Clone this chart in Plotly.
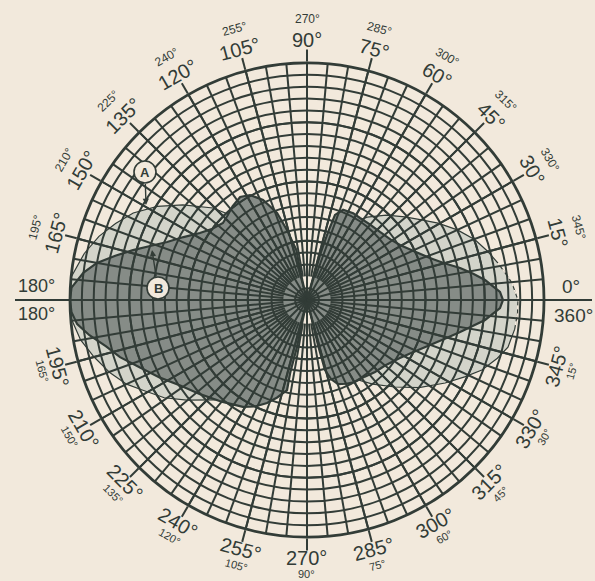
import math
import plotly.graph_objects as go

# ---- polar diagram data (angle in degrees, counter-clockwise from 0° on the right; relative radius) ----
# Curve A: the lighter, larger two-lobed pattern
a_theta = [90, 80, 75, 70, 63, 54, 47, 40.3, 35, 30.4, 25, 19.7, 15, 11, 7, 4.7, 0,
           -3.5, -8, -13.2, -17, -21.8, -26, -31, -38, -44.7, -52, -62, -70, -77, -82,
           -90, -100, -105, -115, -125, -132.6, -140.2, -145.6, -151.2, -155, -159.7, -165, -170,
           -175, -180, -185.5, -191.8, -197, -201.8, -206.6, -212, -217.5, -224.4, -230, -240, -250, -260, -270]
a_r = [0.0, 0.0, 0.1, 0.25, 0.355, 0.432, 0.49, 0.542, 0.59, 0.641, 0.70, 0.753, 0.79, 0.82, 0.85, 0.868, 0.89,
       0.89, 0.885, 0.871, 0.84, 0.795, 0.74, 0.68, 0.60, 0.522, 0.45, 0.368, 0.25, 0.1, 0.0,
       0.0, 0.0, 0.12, 0.30, 0.45, 0.573, 0.66, 0.73, 0.79, 0.84, 0.886, 0.93, 0.97,
       0.995, 1.0, 1.0, 0.96, 0.918, 0.87, 0.82, 0.745, 0.66, 0.555, 0.45, 0.30, 0.12, 0.0, 0.0]

# Curve B: the darker pattern with the strong side lobes
b_theta = [74, 73.3, 73.9, 72.8, 71.8, 68.2, 62, 57.1, 50, 43, 36, 30.6, 24, 18.9, 15, 11.8, 9, 6.4, 2.4, 0,
           -2.4, -6.4, -11.8, -16, -20.1, -26, -32, -40, -46.6, -53, -59.7, -65, -69.7, -73, -75.6, -76.3, -76, -76,
           258, 258, 258, 257, 257.5, 253, 248.8, 244, 239, 230, 221.6, 214, 208, 202, 197, 193, 189.2, 186, 183,
           180, 177, 173, 170, 167, 164, 161, 157.5, 153, 148, 143, 137.5, 133, 128.5, 123, 118.5, 113.7, 109,
           106, 102, 103, 104, 104]
b_r = [0.0, 0.088, 0.198, 0.30, 0.378, 0.41, 0.415, 0.412, 0.415, 0.421, 0.435, 0.456, 0.50, 0.548, 0.60, 0.66, 0.71, 0.756, 0.815, 0.827,
       0.815, 0.756, 0.66, 0.60, 0.553, 0.50, 0.462, 0.43, 0.418, 0.405, 0.401, 0.39, 0.378, 0.35, 0.305, 0.195, 0.087, 0.0,
       0.0, 0.1, 0.203, 0.316, 0.389, 0.43, 0.466, 0.50, 0.526, 0.56, 0.60, 0.645, 0.70, 0.76, 0.825, 0.87, 0.93, 0.975, 0.995,
       1.0, 0.995, 0.95, 0.90, 0.83, 0.764, 0.70, 0.639, 0.585, 0.533, 0.50, 0.481, 0.49, 0.505, 0.518, 0.504, 0.461, 0.388,
       0.307, 0.215, 0.12, 0.05, 0.0]

# bearing scale labels: inner (large) and outer (small) figures
top_angles = [15, 30, 45, 60, 75, 90, 105, 120, 135, 150, 165]
bottom_angles = [195, 210, 225, 240, 255, 270, 285, 300, 315, 330, 345]

W, H = 595, 581
CX, CY, R = 307, 300, 237
INK = "#323c37"
PAPER = "#f2e9dc"
FONT = "Liberation Sans, DejaVu Sans, sans-serif"
FINE_START = 0.1   # the 5° rays stop short of the centre


def px(x, y):
    """pixel position -> paper coordinates"""
    return x / W, 1 - y / H


dom_x = [(CX - R) / W, (CX + R) / W]
dom_y = [1 - (CY + R) / H, 1 - (CY - R) / H]

fig = go.Figure()

# curve A: filled area, solid outline, and a dashed run across the forward tip
fig.add_trace(go.Scatterpolar(
    r=a_r, theta=a_theta, mode="lines", fill="toself",
    fillcolor="#d3d4ca", line=dict(color=INK, width=1.2),
    subplot="polar", hoverinfo="skip", showlegend=False))
tip = [i for i, t in enumerate(a_theta) if -10 <= t <= 12]
fig.add_trace(go.Scatterpolar(
    r=[a_r[i] for i in tip], theta=[a_theta[i] for i in tip], mode="lines",
    line=dict(color=PAPER, width=1.6, dash="4px,4px"),
    subplot="polar", hoverinfo="skip", showlegend=False))

fig.add_trace(go.Scatterpolar(
    r=b_r, theta=b_theta, mode="lines", fill="toself",
    fillcolor="#868c87", line=dict(color=INK, width=2.2),
    subplot="polar", hoverinfo="skip", showlegend=False))

# placeholders so the two grid layers are rendered
for sp, r0 in (("polar2", FINE_START), ("polar3", 0)):
    fig.add_trace(go.Scatterpolar(
        r=[r0 + 0.5], theta=[0], mode="markers", marker=dict(size=1, opacity=0),
        subplot=sp, hoverinfo="skip", showlegend=False))

common_ang = dict(rotation=0, direction="counterclockwise", showticklabels=False)
common_rad = dict(showticklabels=False, ticks="", showline=False)

fig.update_layout(
    width=W, height=H, margin=dict(l=0, r=0, t=0, b=0),
    paper_bgcolor=PAPER, showlegend=False,
    polar=dict(
        domain=dict(x=dom_x, y=dom_y), bgcolor=PAPER,
        angularaxis=dict(**common_ang, showgrid=False, showline=False, ticks=""),
        radialaxis=dict(**common_rad, range=[0, 1], showgrid=False),
    ),
    # fine grid: 5° rays and rings every 0.05 (hole matches the range start, so radii stay true)
    polar2=dict(
        domain=dict(x=dom_x, y=dom_y), bgcolor="rgba(0,0,0,0)", hole=FINE_START,
        angularaxis=dict(**common_ang, tickmode="array", tickvals=list(range(0, 360, 5)),
                         showgrid=True, gridcolor=INK, gridwidth=1.5, showline=False, ticks=""),
        radialaxis=dict(**common_rad, range=[FINE_START, 1], tickmode="array",
                        tickvals=[round(0.05 * i, 2) for i in range(2, 20)],
                        showgrid=True, gridcolor=INK, gridwidth=1.5),
    ),
    # heavy grid: 15° rays, quarter rings, rim and outside ticks
    polar3=dict(
        domain=dict(x=dom_x, y=dom_y), bgcolor="rgba(0,0,0,0)",
        angularaxis=dict(**common_ang, tickmode="array", tickvals=list(range(0, 360, 15)),
                         showgrid=True, gridcolor=INK, gridwidth=2.4,
                         showline=True, linecolor=INK, linewidth=2.8,
                         ticks="outside", ticklen=12, tickwidth=2.2, tickcolor=INK),
        radialaxis=dict(**common_rad, range=[0, 1], tickmode="array",
                        tickvals=[0.05, 0.25, 0.5, 0.75],
                        showgrid=True, gridcolor=INK, gridwidth=1.9),
    ),
)

annotations = []


def label(text, ang, dist, size, rot):
    x = CX + dist * math.cos(math.radians(ang))
    y = CY - dist * math.sin(math.radians(ang))
    xp, yp = px(x, y)
    annotations.append(dict(x=xp, y=yp, xref="paper", yref="paper", text=text, showarrow=False,
                            textangle=rot, xanchor="center", yanchor="middle",
                            font=dict(family=FONT, size=size, color=INK)))


for a in top_angles:
    label(f"{a}°", a, 260, 20, 90 - a)
    label(f"{360 - a}°", a, 281, 12, 90 - a)
for a in bottom_angles:
    label(f"{a}°", a, 258, 20, 270 - a)
    label(f"{360 - a}°", a, 274, 11, 270 - a)

# labels at the ends of the horizontal axis
for text, (x, y), size in [("0°", (571, 286), 19), ("360°", (573, 315), 19),
                           ("180°", (36, 286), 18), ("180°", (36, 314), 18)]:
    xp, yp = px(x, y)
    annotations.append(dict(x=xp, y=yp, xref="paper", yref="paper", text=text, showarrow=False,
                            xanchor="center", yanchor="middle",
                            font=dict(family=FONT, size=size, color=INK)))

# curve identifiers: circled letter with a pointer to its curve
markers = [("A", (145, 172), (146, 205)), ("B", (158, 288), (152, 250))]
shapes = []
for text, (cx, cy), (tx, ty) in markers:
    rr = 11
    x0, y1 = px(cx - rr, cy - rr)
    x1, y0 = px(cx + rr, cy + rr)
    shapes.append(dict(type="circle", xref="paper", yref="paper", x0=x0, x1=x1, y0=y0, y1=y1,
                       line=dict(color=INK, width=1.6), fillcolor=PAPER, layer="above"))
    xp, yp = px(tx, ty)
    annotations.append(dict(x=xp, y=yp, xref="paper", yref="paper", text=f"<b>{text}</b>",
                            showarrow=True, ax=cx - tx, ay=cy - ty,
                            arrowhead=2, arrowsize=0.9, arrowwidth=1.4, arrowcolor=INK,
                            standoff=0, startstandoff=3,
                            font=dict(family=FONT, size=13, color=INK)))

# horizontal reference line extended past the rim
x0, yy = px(15, CY)
x1, _ = px(592, CY)
shapes.append(dict(type="line", xref="paper", yref="paper", x0=x0, x1=x1, y0=yy, y1=yy,
                   line=dict(color=INK, width=2.2), layer="below"))

fig.update_layout(annotations=annotations, shapes=shapes)

fig.write_html("out.html")
